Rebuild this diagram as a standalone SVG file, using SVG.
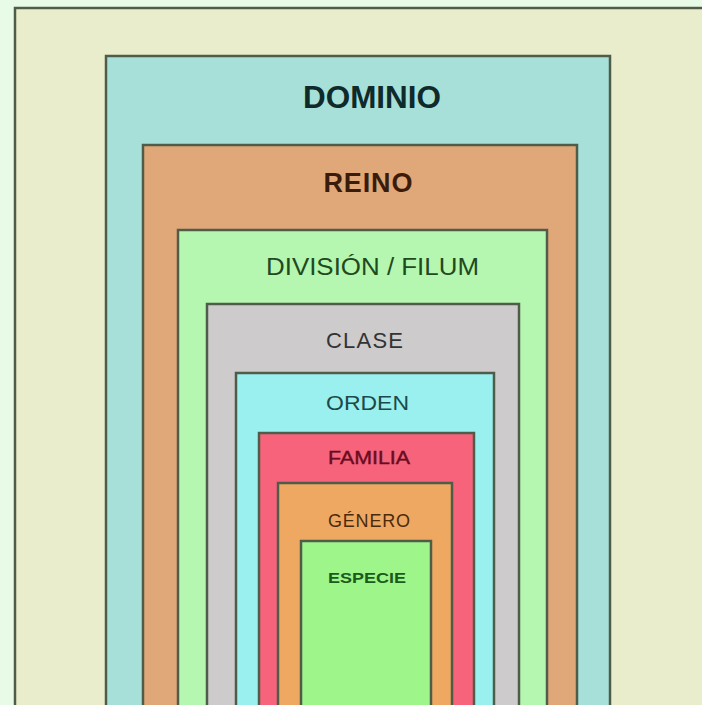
<svg xmlns="http://www.w3.org/2000/svg" width="702" height="705" viewBox="0 0 702 705">
<style>
.box{stroke:#4f5c4a;stroke-width:2.5}
text{font-family:"Liberation Sans",Arial,sans-serif;text-anchor:middle}
</style>
<rect x="0" y="0" width="702" height="705" fill="#e8fbe6"/>
<g id="frame"><rect class="box" x="15" y="8" width="720" height="730" fill="#e9edcb"/></g>
<g id="dominio"><rect class="box" x="106" y="56" width="504" height="680" fill="#a6e0d8"/><text x="372" y="108" font-size="31" font-weight="bold" fill="#0f2a2a" textLength="138" lengthAdjust="spacingAndGlyphs">DOMINIO</text></g>
<g id="reino"><rect class="box" x="143" y="145" width="434" height="590" fill="#e0a878"/><text x="368" y="192" font-size="27" font-weight="bold" fill="#3a1c0c" textLength="89" lengthAdjust="spacing">REINO</text></g>
<g id="division"><rect class="box" x="178" y="230" width="369" height="505" fill="#b5f6b1"/><text x="372.5" y="275" font-size="23" fill="#1e4a1e" textLength="213" lengthAdjust="spacingAndGlyphs">DIVISIÓN / FILUM</text></g>
<g id="clase"><rect class="box" x="207" y="304" width="312" height="430" fill="#cdcbcb"/><text x="364.5" y="348" font-size="22" fill="#333333" textLength="77" lengthAdjust="spacing">CLASE</text></g>
<g id="orden"><rect class="box" x="236" y="373" width="258" height="360" fill="#9af0ee"/><text x="367.5" y="410" font-size="21" fill="#1c4a4a" textLength="83" lengthAdjust="spacingAndGlyphs">ORDEN</text></g>
<g id="familia"><rect class="box" x="259" y="433" width="215" height="300" fill="#f7637b"/><text x="369" y="464" font-size="18" fill="#6a0c1e" stroke="#6a0c1e" stroke-width="0.4" textLength="82" lengthAdjust="spacingAndGlyphs">FAMILIA</text></g>
<g id="genero"><rect class="box" x="278" y="483" width="174" height="250" fill="#eea862"/><text x="369" y="527" font-size="18" fill="#4a2a0c" textLength="82" lengthAdjust="spacing">GÉNERO</text></g>
<g id="especie"><rect class="box" x="301" y="541" width="130" height="190" fill="#9ef58a"/><text x="367" y="583" font-size="15" font-weight="bold" fill="#1c5a1c" textLength="78" lengthAdjust="spacingAndGlyphs">ESPECIE</text></g>
<g id="connectors"></g>
</svg>
